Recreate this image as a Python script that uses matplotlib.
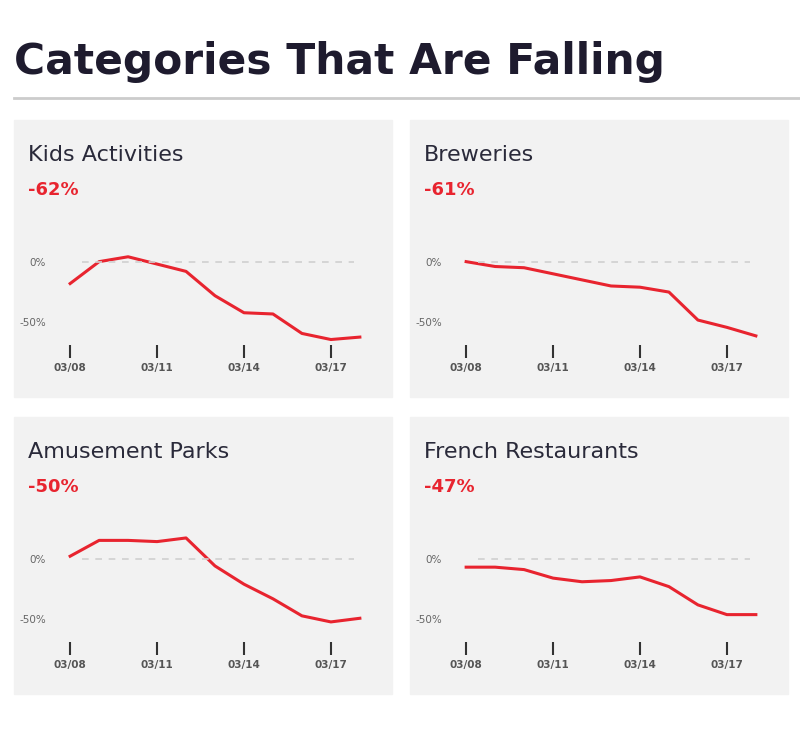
import matplotlib.pyplot as plt
import matplotlib.patches as mpatches

days = ['03/08', '03/09', '03/10', '03/11', '03/12', '03/13', '03/14', '03/15', '03/16', '03/17', '03/18']
names = ['Kids Activities', 'Breweries', 'Amusement Parks', 'French Restaurants']
changes = ['-62%', '-61%', '-50%', '-47%']
kids = [-18, 0, 4, -2, -8, -28, -42, -43, -59, -64, -62]
breweries = [0, -4, -5, -10, -15, -20, -21, -25, -48, -54, -61]
amusement = [2, 15, 15, 14, 17, -6, -21, -33, -47, -52, -49]
french = [-7, -7, -9, -16, -19, -18, -15, -23, -38, -46, -46]
series = [kids, breweries, amusement, french]

RED = '#e8242f'
W, H = 800, 730
fig = plt.figure(figsize=(8, 7.3), dpi=100)

def fx(x):
    return x / W

def fy(y):
    return 1 - y / H

fig.text(fx(14), fy(62), 'Categories That Are Falling', fontsize=30.5, fontweight='heavy',
         color='#1e1b2e', va='center', ha='left')
fig.add_artist(plt.Line2D([fx(14), fx(800)], [fy(98), fy(98)], color='#cccccc', lw=2))

origins = [(14, 120), (410, 120), (14, 417), (410, 417)]
for i, (px, py) in enumerate(origins):
    fig.add_artist(mpatches.Rectangle((fx(px), fy(py + 277)), 378 / W, 277 / H,
                                      color='#f2f2f2', transform=fig.transFigure, zorder=0))
    fig.text(fx(px + 14), fy(py + 35), names[i], fontsize=16, color='#2a2a3a', va='center')
    fig.text(fx(px + 14), fy(py + 70), changes[i], fontsize=13, fontweight='bold', color=RED, va='center')

    top, bot = py + 110, py + 225
    ax = fig.add_axes([fx(px + 46), fy(bot), 310 / W, (bot - top) / H])
    ax.set_facecolor('none')
    ax.plot(range(len(days)), series[i], color=RED, lw=2.2)
    ax.plot([0.4, 9.8], [0, 0], color='#d0d0d0', lw=1.2, ls=(0, (4, 4)))
    ax.set_xlim(-0.35, 10.35)
    ax.set_ylim(-68.5, 26)
    for s in ax.spines.values():
        s.set_visible(False)
    ax.set_xticks([0, 3, 6, 9])
    ax.set_xticklabels([days[k] for k in [0, 3, 6, 9]], fontsize=7.5, fontweight='bold', color='#555555')
    ax.tick_params(axis='x', length=9, width=1.5, color='#333333', pad=4)
    ax.set_yticks([0, -50])
    ax.set_yticklabels(['0%', '-50%'], fontsize=7.5, color='#666666')
    ax.tick_params(axis='y', length=0, pad=10)

fig.savefig('out.png', dpi=100)
